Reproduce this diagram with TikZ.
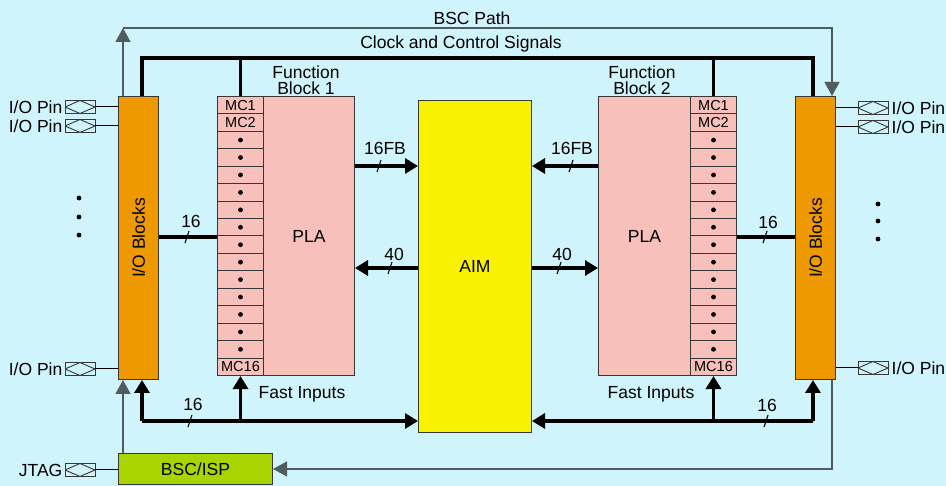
\documentclass[tikz,border=0pt]{standalone}
\usepackage{fontspec}
\setmainfont{Liberation Sans}
\usetikzlibrary{arrows.meta,calc}
\definecolor{bgc}{RGB}{208,244,252}
\definecolor{iocol}{RGB}{238,153,0}
\definecolor{fbcol}{RGB}{247,192,186}
\definecolor{aimcol}{RGB}{248,242,0}
\definecolor{bsccol}{RGB}{168,212,0}
\definecolor{thinln}{RGB}{80,92,96}
\definecolor{edge}{RGB}{55,55,55}
\begin{document}
\begin{tikzpicture}[x=1pt,y=-1pt,
  every node/.style={font=\fontsize{17.5}{16}\selectfont, inner sep=0pt},
  blk/.style={draw=edge, line width=1pt, anchor=north west},
  mc/.style={blk, fill=fbcol, minimum width=46pt, minimum height=17.44pt, font=\fontsize{14.5}{14}\selectfont},
  pin/.style={draw=edge, line width=0.9pt, minimum width=30pt, minimum height=13pt,
    path picture={\draw[line width=0.9pt] (path picture bounding box.west) -- (path picture bounding box.north) -- (path picture bounding box.east) -- (path picture bounding box.south) -- cycle;}},
  bus/.style={line width=3.5pt},
  busarrow/.style={bus, -{Triangle[length=13pt,width=15pt]}},
  thinline/.style={line width=1.3pt, draw=thinln},
  thinarrow/.style={thinline, -{Triangle[length=14pt,width=15pt]}},
  slash/.style={line width=1.1pt}
]
\fill[bgc] (0,0) rectangle (946,486);
\useasboundingbox (0,0) rectangle (946,486);

% blocks
\node[blk, fill=iocol, minimum width=40pt, minimum height=283pt] (lio) at (118,96) {};
\node[blk, fill=iocol, minimum width=40pt, minimum height=283pt] (rio) at (795,96) {};
\node[rotate=90] (liotext) at (lio.center) {I/O Blocks};
\node[rotate=90] (riotext) at (rio.center) {I/O Blocks};

\node[blk, fill=fbcol, minimum width=91pt, minimum height=279pt] (pla1) at (263,96) {PLA};
\node[blk, fill=fbcol, minimum width=92pt, minimum height=279pt] (pla2) at (598,96) {PLA};
\foreach \i in {1,...,16}{
  \node[mc] (mca\i) at (217,{96+(\i-1)*17.4375}) {\ifnum\i=1 MC1\fi\ifnum\i=2 MC2\fi\ifnum\i=16 MC16\fi};
  \node[mc] (mcb\i) at (690,{96+(\i-1)*17.4375}) {\ifnum\i=1 MC1\fi\ifnum\i=2 MC2\fi\ifnum\i=16 MC16\fi};
  \ifnum\i>2 \ifnum\i<16
    \fill (mca\i.center) circle (2.4);
    \fill (mcb\i.center) circle (2.4);
  \fi\fi
}
\node[blk, fill=aimcol, minimum width=113pt, minimum height=332pt] (aim) at (418,100) {AIM};
\node[blk, fill=bsccol, minimum width=154pt, minimum height=31pt] (bsc) at (118,453) {BSC/ISP};

% labels
\node (bsclbl) at (472,18) {BSC Path};
\node (clklbl) at (461,44) {Clock and Control Signals};
\node[align=center] (fb1lbl) at (306,80) {Function\\Block 1};
\node[align=center] (fb2lbl) at (642,80) {Function\\Block 2};
\node (fi1) at (302,394) {Fast Inputs};
\node (fi2) at (651,394) {Fast Inputs};
\node (l16fbL) at (385,148) {16FB};
\node (l16fbR) at (572,148) {16FB};
\node (l40L) at (394,254) {40};
\node (l40R) at (562,254) {40};
\node (l16a) at (191,221) {16};
\node (l16b) at (768,222) {16};
\node (l16c) at (193,404) {16};
\node (l16d) at (767,405) {16};

% pins
\node[pin] (pl1) at (80,107) {};
\node[pin] (pl2) at (80,126) {};
\node[pin] (pl3) at (80,369) {};
\node[pin] (pj) at (80,470) {};
\node[pin] (pr1) at (873,108) {};
\node[pin] (pr2) at (873,127) {};
\node[pin] (pr3) at (873,368) {};
\node[anchor=east] (tl1) at ([xshift=-2pt]pl1.west) {I/O Pin};
\node[anchor=east] (tl2) at ([xshift=-2pt]pl2.west) {I/O Pin};
\node[anchor=east] (tl3) at ([xshift=-2pt]pl3.west) {I/O Pin};
\node[anchor=east] (tj) at ([xshift=-2pt]pj.west) {JTAG};
\node[anchor=west] (tr1) at ([xshift=3pt]pr1.east) {I/O Pin};
\node[anchor=west] (tr2) at ([xshift=3pt]pr2.east) {I/O Pin};
\node[anchor=west] (tr3) at ([xshift=3pt]pr3.east) {I/O Pin};
\draw[line width=1pt] (pl1.east) -- (pl1.east -| lio.west);
\draw[line width=1pt] (pl2.east) -- (pl2.east -| lio.west);
\draw[line width=1pt] (pl3.east) -- (pl3.east -| lio.west);
\draw[line width=1pt] (pj.east) -- (pj.east -| bsc.west);
\draw[line width=1pt] (pr1.west) -- (pr1.west -| rio.east);
\draw[line width=1pt] (pr2.west) -- (pr2.west -| rio.east);
\draw[line width=1pt] (pr3.west) -- (pr3.west -| rio.east);

% vertical dots
\foreach \y in {198,217,235}{\fill (79,\y) circle (2.4);}
\foreach \y in {204,221,239}{\fill (878,\y) circle (2.4);}

% BSC path
\coordinate (bscTL) at (123,28);
\coordinate (bscTR) at (832,28);
\draw[thinarrow] (bscTL |- lio.north) -- (bscTL);
\draw[thinarrow] (bscTL) -- (bscTR) -- (bscTR |- rio.north);
\draw[thinarrow] (bscTL |- bsc.north) -- (bscTL |- lio.south);
\coordinate (bscBR) at (832,469);
\draw[thinarrow] (bscTR |- rio.south) -- (bscBR) -- (bscBR -| bsc.east);

% clock and control
\coordinate (clkL) at (142,58);
\coordinate (clkR) at (813,58);
\draw[bus] (clkL |- lio.north) -- (clkL) -- (clkR) -- (clkR |- rio.north);
\draw[bus] (mca1.north |- clkL) -- (mca1.north);
\draw[bus] (mcb1.north |- clkL) -- (mcb1.north);

% 16 buses between IO and MC
\draw[bus] (lio.east |- 0,237) -- (mca1.west |- 0,237);
\draw[bus] (mcb1.east |- 0,237) -- (rio.west |- 0,237);
\draw[slash] (185,243) -- (189,231);
\draw[slash] (763,243) -- (767,231);

% PLA <-> AIM
\draw[busarrow] (pla1.east |- 0,166) -- (aim.west |- 0,166);
\draw[busarrow] (pla2.west |- 0,166) -- (aim.east |- 0,166);
\draw[busarrow] (aim.west |- 0,268) -- (pla1.east |- 0,268);
\draw[busarrow] (aim.east |- 0,268) -- (pla2.west |- 0,268);
\draw[slash] (377,172) -- (381,160);
\draw[slash] (569,172) -- (573,160);
\draw[slash] (388,274) -- (392,262);
\draw[slash] (557,274) -- (561,262);

% bottom buses
\coordinate (busL) at (142,421);
\coordinate (busR) at (813,421);
\draw[busarrow] (busL) -- (aim.west |- busL);
\draw[busarrow] (busL) -- (busL |- lio.south);
\draw[busarrow] (mca16.south |- busL) -- (mca16.south);
\draw[busarrow] (busR) -- (aim.east |- busR);
\draw[busarrow] (busR) -- (busR |- rio.south);
\draw[busarrow] (mcb16.south |- busR) -- (mcb16.south);
\draw[slash] (188,427) -- (192,415);
\draw[slash] (764,427) -- (768,415);
\end{tikzpicture}
\end{document}
